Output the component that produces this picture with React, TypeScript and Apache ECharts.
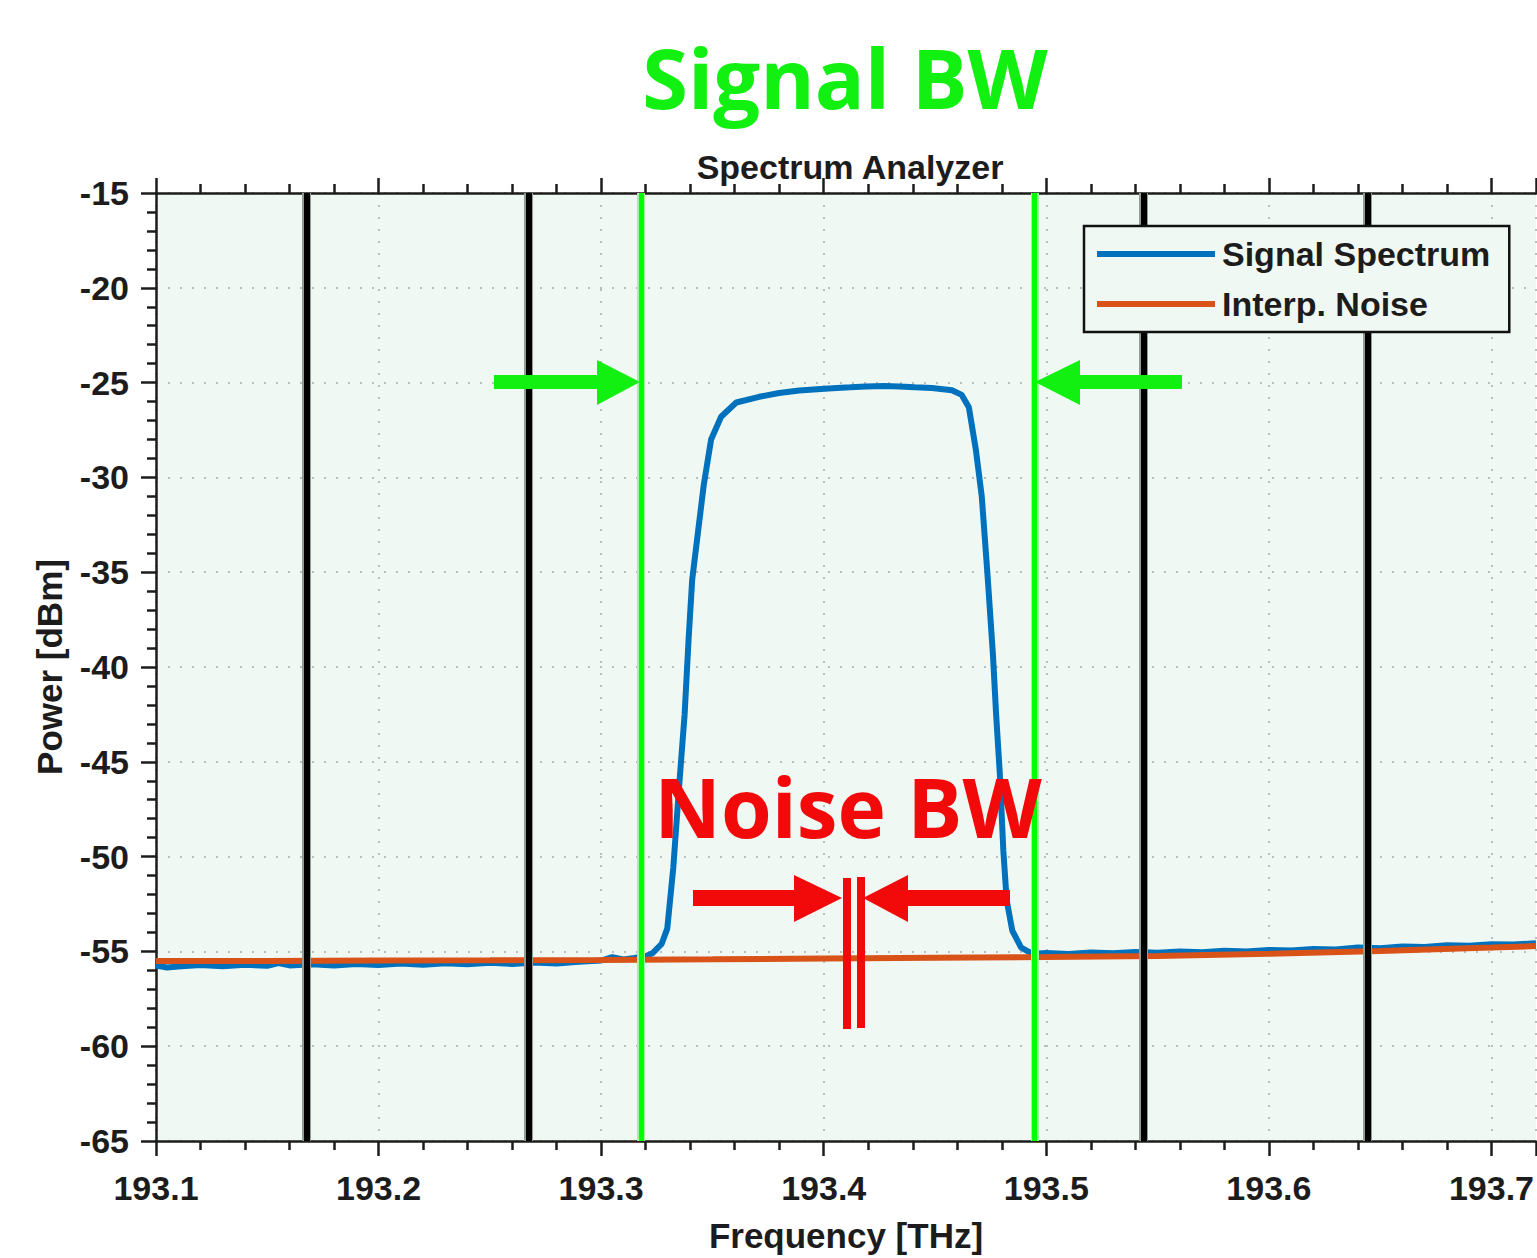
import React, { useEffect, useRef } from "react";
import * as echarts from "echarts";

// ---- Data ----
const specFreq = [
  193.1, 193.105, 193.11, 193.12, 193.13, 193.14, 193.15, 193.155, 193.16, 193.17, 193.18, 193.19,
  193.2, 193.21, 193.22, 193.23, 193.24, 193.25, 193.26, 193.27, 193.28, 193.29, 193.3, 193.305,
  193.31, 193.315, 193.32,
  193.323, 193.3272, 193.3297, 193.3324, 193.3349, 193.3375, 193.3393, 193.3409, 193.3436, 193.3461,
  193.3494, 193.3539, 193.3607, 193.371, 193.38, 193.389, 193.397, 193.404, 193.412, 193.419,
  193.427, 193.434, 193.441, 193.4486, 193.4576, 193.462, 193.4652, 193.4683, 193.471, 193.4735,
  193.476, 193.4775, 193.4791, 193.4807, 193.4822, 193.4847, 193.4887, 193.4926,
  193.495, 193.5, 193.51, 193.52, 193.53, 193.54, 193.55, 193.56, 193.57, 193.58, 193.59, 193.6,
  193.61, 193.62, 193.63, 193.64, 193.65, 193.66, 193.67, 193.68, 193.69, 193.7, 193.71, 193.72,
];
const specPower = [
  -55.75, -55.85, -55.8, -55.72, -55.78, -55.7, -55.76, -55.62, -55.74, -55.68, -55.75, -55.66,
  -55.72, -55.64, -55.7, -55.62, -55.68, -55.6, -55.66, -55.58, -55.64, -55.55, -55.48, -55.3,
  -55.42, -55.35, -55.25,
  -55.1, -54.6, -53.8, -50.6, -46.5, -42.5, -38.5, -35.4, -32.8, -30.4,
  -28.0, -26.8, -26.05, -25.75, -25.55, -25.42, -25.35, -25.3, -25.25, -25.2,
  -25.18, -25.2, -25.24, -25.28, -25.4, -25.65, -26.3, -28.5, -31.0, -35.0,
  -39.3, -42.6, -45.6, -49.7, -52.3, -53.9, -54.8, -55.05,
  -55.12, -55.08, -55.14, -55.06, -55.1, -55.03, -55.07, -55.0, -55.04, -54.97, -55.0, -54.92,
  -54.95, -54.87, -54.9, -54.8, -54.83, -54.74, -54.77, -54.67, -54.7, -54.62, -54.64, -54.57,
];
const noiseFreq = [193.1, 193.15, 193.2, 193.25, 193.3, 193.35, 193.4, 193.45, 193.5, 193.55, 193.6, 193.65, 193.7, 193.72];
const noisePower = [-55.5, -55.5, -55.48, -55.47, -55.45, -55.42, -55.38, -55.34, -55.3, -55.24, -55.13, -54.98, -54.8, -54.72];

const channelEdges = [193.1677, 193.2673, 193.5437, 193.6444];
const signalBwEdges = [193.3178, 193.4946];

const seriesNames = ["Signal Spectrum", "Interp. Noise"];

const FONT = "'Liberation Sans', Arial, Helvetica, sans-serif";
const AX = "#1c1c1c";
const GREEN = "#12F012";
const RED = "#F20A0A";

export default function App() {
  const ref = useRef<HTMLDivElement>(null);
  useEffect(() => {
    const chart = echarts.init(ref.current!, null, { renderer: "svg" });
    const tickFont = { fontFamily: FONT, fontWeight: "bold" as const, fontSize: 34, color: AX };
    const xFmt = (v: number) => {
      const r = Math.round(v * 10);
      return Math.abs(v * 10 - r) < 1e-6 ? (r / 10).toFixed(1) : "";
    };
    const dotted = { show: true, lineStyle: { color: "#bdbdbd", type: [2, 10] as any, width: 2 } };
    const axisLine = { show: true, onZero: false, lineStyle: { color: AX, width: 2.5 } };
    const tick = { show: true, length: 15, lineStyle: { color: AX, width: 2.5 } };
    const minor = { show: true, splitNumber: 5, length: 9, lineStyle: { color: AX, width: 2.5 } };
    const vline = (name: string, values: number[], color: string, width: number, z: number) => ({
      name, type: "line", data: [], z, silent: true,
      markLine: {
        silent: true, precision: 5, symbol: ["none", "none"], label: { show: false },
        lineStyle: { color, width, type: "solid" },
        emphasis: { disabled: true },
        data: values.map((v) => ({ xAxis: v })),
      },
    });

    const option: any = {
      animation: false,
      backgroundColor: "#ffffff",
      grid: { left: 156, right: 0, top: 193, bottom: 117, show: true, backgroundColor: "#F0F8F4", borderWidth: 0 },
      legend: {
        data: seriesNames,
        orient: "vertical",
        left: 1084,
        top: 226,
        padding: [11, 19, 11, 13],
        itemGap: 16,
        itemWidth: 118,
        itemHeight: 6,
        icon: "rect",
        backgroundColor: "#F0F8F4",
        borderColor: "#111",
        borderWidth: 2.5,
        borderRadius: 0,
        z: 10,
        textStyle: { fontFamily: FONT, fontWeight: "bold", fontSize: 34, color: AX, padding: [0, 0, 0, 2] },
      },
      xAxis: [
        {
          type: "value", min: 193.1, max: 193.72, interval: 0.1, position: "bottom",
          axisLine, axisTick: tick, minorTick: minor,
          axisLabel: { ...tickFont, margin: 30, formatter: xFmt, showMaxLabel: false },
          splitLine: dotted,
          name: "Frequency [THz]", nameLocation: "middle", nameGap: 77,
          nameTextStyle: { fontFamily: FONT, fontWeight: "bold", fontSize: 35, color: AX },
        },
        {
          type: "value", min: 193.1, max: 193.72, interval: 0.1, position: "top",
          axisLine, axisTick: tick, minorTick: minor,
          axisLabel: { show: false }, splitLine: { show: false },
        },
      ],
      yAxis: {
        type: "value", min: -65, max: -15, interval: 5,
        axisLine, axisTick: tick, minorTick: minor,
        axisLabel: { ...tickFont, margin: 27 },
        splitLine: dotted,
        name: "Power [dBm]", nameLocation: "middle", nameGap: 89,
        nameTextStyle: { fontFamily: FONT, fontWeight: "bold", fontSize: 35, color: AX },
      },
      series: [
        {
          name: seriesNames[0], type: "line", showSymbol: false, z: 2,
          data: specFreq.map((f, i) => [f, specPower[i]]),
          lineStyle: { color: "#0072BD", width: 6 }, itemStyle: { color: "#0072BD" },
        },
        {
          name: seriesNames[1], type: "line", showSymbol: false, z: 3,
          data: noiseFreq.map((f, i) => [f, noisePower[i]]),
          lineStyle: { color: "#D95319", width: 6 }, itemStyle: { color: "#D95319" },
        },
        vline("chHalo", channelEdges, "#8f9e95", 9, 4),
        vline("ch", channelEdges, "#000000", 6, 5),
        vline("bwHalo", signalBwEdges, "#9df59d", 8, 6),
        vline("bw", signalBwEdges, "#00FF00", 5, 7),
      ],
      graphic: [
        { type: "text", z: 20, x: 845, y: 76, style: { text: "Signal BW", fill: GREEN, font: "bold 83px 'Open Sans', 'Noto Sans', sans-serif", align: "center", verticalAlign: "middle" } },
        { type: "text", z: 20, x: 850, y: 167, style: { text: "Spectrum Analyzer", fill: AX, font: `bold 34px ${FONT}`, align: "center", verticalAlign: "middle" } },
        { type: "text", z: 20, x: 848, y: 806, style: { text: "Noise BW", fill: RED, font: "bold 82px 'Open Sans', 'Noto Sans', sans-serif", align: "center", verticalAlign: "middle" } },
        { type: "polygon", z: 20, shape: { points: [[494, 375], [597, 375], [597, 360], [640, 382], [597, 405], [597, 389], [494, 389]] }, style: { fill: GREEN } },
        { type: "polygon", z: 20, shape: { points: [[1182, 375], [1080, 375], [1080, 360], [1035, 382], [1080, 405], [1080, 389], [1182, 389]] }, style: { fill: GREEN } },
        { type: "polygon", z: 20, shape: { points: [[693, 890], [794, 890], [794, 875], [842, 898], [794, 922], [794, 906], [693, 906]] }, style: { fill: RED } },
        { type: "polygon", z: 20, shape: { points: [[1010, 890], [908, 890], [908, 875], [863, 898], [908, 922], [908, 906], [1010, 906]] }, style: { fill: RED } },
        { type: "rect", z: 20, shape: { x: 843, y: 878, width: 8, height: 151 }, style: { fill: RED } },
        { type: "rect", z: 20, shape: { x: 857, y: 877, width: 8, height: 151 }, style: { fill: RED } },
      ],
    };
    chart.setOption(option);
    return () => chart.dispose();
  }, []);
  return <div ref={ref} style={{ position: "absolute", left: 0, top: 0, width: 1537, height: 1258 }} />;
}
